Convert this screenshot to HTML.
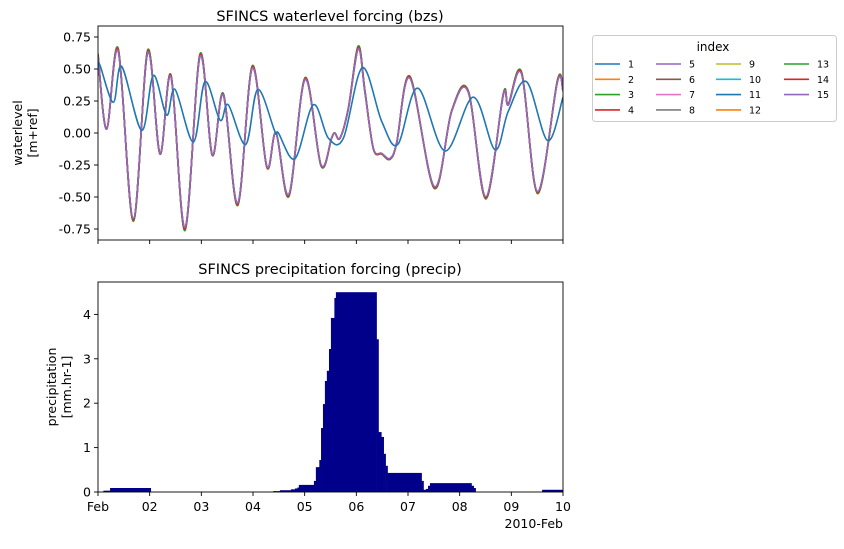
<!DOCTYPE html>
<html><head><meta charset="utf-8"><style>
body{margin:0;background:#fff;font-family:"Liberation Sans","DejaVu Sans",sans-serif;}
svg text{font-family:"DejaVu Sans","Liberation Sans",sans-serif;fill:#000;}
</style></head><body>
<svg id="fig" width="844" height="544" viewBox="0 0 844 544" xmlns="http://www.w3.org/2000/svg">
<rect width="844" height="544" fill="#fff"/>
<g id="topchart"></g>
<g id="botchart"></g>
<g id="legend"></g>
</svg>
<script>
// waterlevel data (hours since Feb 1, value m+ref)
const tideHours = [0,4,9.4,16.4,23.1,28.8,33.9,40.4,47.4,53.1,58.2,64.9,71.7,78.4,82.7,88.7,96.2,103.6,108.5,110,112.4,116.3,120.9,124,127.9,131.8,135.6,138.7,144.9,156.2,164.3,172,180.1,188.3,190.6,196.8,204.2,213.4,216];
const tideLevels = [0.60,0.03,0.64,-0.67,0.63,-0.16,0.44,-0.74,0.60,-0.17,0.30,-0.55,0.51,-0.26,0.0,-0.48,0.42,-0.25,-0.04,0.0,-0.04,0.19,0.66,0.32,-0.12,-0.16,-0.20,-0.08,0.43,-0.42,0.17,0.32,-0.50,0.30,0.22,0.46,-0.46,0.40,0.33];
const offHours = [0,0.9,7.1,11,20.3,25.7,31.9,35.8,44.3,49.7,56.7,60.5,68.6,74.2,82.2,83.8,91.5,100,107,114,122.8,131.8,139.2,148.5,161.2,174.3,184.4,190.6,199.1,208.9,216];
const offLevels = [0.52,0.53,0.24,0.52,0.02,0.45,0.14,0.34,-0.07,0.40,0.10,0.22,-0.09,0.34,0.01,0.0,-0.20,0.22,-0.04,-0.04,0.51,0.09,-0.09,0.35,-0.14,0.28,-0.13,0.17,0.40,-0.06,0.28];
const seriesIndex = [1,2,3,4,5,6,7,8,9,10,11,12,13,14,15];
const seriesAmp = [1,1.005,1.03,1.02,1.0,1.005,1.0,1.0,1.005,1.0,1.005,1.01,1.03,1.015,0.995];
const wlTicks = [-0.75,-0.5,-0.25,0,0.25,0.5,0.75];
// precipitation step data
const precipStart = [0,2.5,5.6,24.5,81.4,84.5,89.6,91.5,92.6,93.3,100.3,101.2,102.8,103.6,104.5,105.4,106.3,107.3,108.2,109.8,110.5,129.4,130.3,131.6,132.7,133.6,134.5,150.3,151.2,152.3,153.3,154.2,173.5,174.5,175.4,206.3];
const precipValue = [0,0.03,0.09,0,0.02,0.04,0.06,0.08,0.1,0.16,0.25,0.56,0.72,1.44,1.98,2.5,2.73,3.22,3.92,4.37,4.5,3.44,1.35,1.24,0.86,0.59,0.43,0.25,0.05,0.07,0.14,0.2,0.14,0.09,0,0.05];
const precipTicks = [0,1,2,3,4];
const dayLabels = ["Feb","02","03","04","05","06","07","08","09","10"];
const colors = ["#1f77b4","#ff7f0e","#2ca02c","#d62728","#9467bd","#8c564b","#e377c2","#7f7f7f","#bcbd22","#17becf","#1f77b4","#ff7f0e","#2ca02c","#d62728","#9467bd"];

const NS="http://www.w3.org/2000/svg";
function mk(tag,attrs,parent){const e=document.createElementNS(NS,tag);for(const k in attrs)e.setAttribute(k,attrs[k]);parent.appendChild(e);return e;}
const L=98,R=563;
const xH=h=>L+(R-L)*h/216;
const yW=v=>133-v*128;
const yP=v=>492-v*44.4;

function smoothPath(xs,ys){
  let d="M"+xs[0].toFixed(2)+","+ys[0].toFixed(2);
  const n=xs.length;
  for(let i=0;i<n-1;i++){
    const x0=xs[Math.max(i-1,0)],y0=ys[Math.max(i-1,0)],x1=xs[i],y1=ys[i],x2=xs[i+1],y2=ys[i+1],x3=xs[Math.min(i+2,n-1)],y3=ys[Math.min(i+2,n-1)];
    const t=1/6;
    const c1x=x1+(x2-x0)*t,c1y=y1+(y2-y0)*t,c2x=x2-(x3-x1)*t,c2y=y2-(y3-y1)*t;
    d+=" C"+c1x.toFixed(2)+","+c1y.toFixed(2)+" "+c2x.toFixed(2)+","+c2y.toFixed(2)+" "+x2.toFixed(2)+","+y2.toFixed(2);
  }
  return d;
}

const topG=document.getElementById('topchart');
const botG=document.getElementById('botchart');
const defs=mk('defs',{},document.getElementById('fig'));
const cp=mk('clipPath',{id:'cpTop'},defs);mk('rect',{x:L,y:26,width:R-L,height:214},cp);

const lines=mk('g',{'clip-path':'url(#cpTop)'},topG);
for(let s=1;s<seriesIndex.length;s++){
  const p=mk('path',{d:smoothPath(tideHours.map(xH),tideLevels.map(v=>yW(v*seriesAmp[s]))),fill:'none',stroke:colors[s],'stroke-width':1.6},lines);
  
  
}
const off=mk('path',{d:smoothPath(offHours.map(xH),offLevels.map(yW)),fill:'none',stroke:colors[0],'stroke-width':1.6},lines);



mk('rect',{x:L,y:26,width:R-L,height:214,fill:'none',stroke:'#000','stroke-width':0.9},topG);
wlTicks.forEach(v=>{
  const y=yW(v);
  mk('line',{x1:L-4,x2:L,y1:y,y2:y,stroke:'#000','stroke-width':0.9},topG);
  const t=mk('text',{x:L-7,y:y+4.5,'text-anchor':'end','font-size':12.5},topG);
  t.textContent=v.toFixed(2);
  
  
});
dayLabels.forEach((d,i)=>{const x=xH(i*24);mk('line',{x1:x,x2:x,y1:240,y2:244,stroke:'#000','stroke-width':0.9},topG);});
let tt=mk('text',{x:330,y:21,'text-anchor':'middle','font-size':14.5},topG);tt.textContent="SFINCS waterlevel forcing (bzs)";


let yl=mk('text',{transform:'translate(22,133) rotate(-90)','text-anchor':'middle','font-size':12.5},topG);
yl.innerHTML='<tspan x="0" dy="0">waterlevel</tspan><tspan x="0" dy="15">[m+ref]</tspan>';



for(let i=0;i<precipStart.length;i++){
  if(precipValue[i]<=0)continue;
  const x0=xH(precipStart[i]),x1=xH(i+1<precipStart.length?precipStart[i+1]:216);
  const r=mk('rect',{x:x0,y:yP(precipValue[i]),width:x1-x0+0.3,height:492-yP(precipValue[i]),fill:'#00008b'},botG);
  
  
}
mk('rect',{x:L,y:282,width:R-L,height:210,fill:'none',stroke:'#000','stroke-width':0.9},botG);
precipTicks.forEach(v=>{
  const y=yP(v);
  mk('line',{x1:L-4,x2:L,y1:y,y2:y,stroke:'#000','stroke-width':0.9},botG);
  const t=mk('text',{x:L-7,y:y+4.5,'text-anchor':'end','font-size':12.5},botG);t.textContent=String(v);
  
  
});
dayLabels.forEach((d,i)=>{
  const x=xH(i*24);
  mk('line',{x1:x,x2:x,y1:492,y2:496,stroke:'#000','stroke-width':0.9},botG);
  const t=mk('text',{x:x,y:511,'text-anchor':'middle','font-size':12.5},botG);t.textContent=d;
  
  
});
let yr=mk('text',{x:R,y:528,'text-anchor':'end','font-size':12.5},botG);yr.textContent="2010-Feb";


let bt=mk('text',{x:330,y:274,'text-anchor':'middle','font-size':14.5},botG);bt.textContent="SFINCS precipitation forcing (precip)";


let pl=mk('text',{transform:'translate(56,387) rotate(-90)','text-anchor':'middle','font-size':12.5},botG);
pl.innerHTML='<tspan x="0" dy="0">precipitation</tspan><tspan x="0" dy="15">[mm.hr-1]</tspan>';



const lg=document.getElementById('legend');
mk('rect',{x:592.5,y:35.5,width:244,height:86,rx:3,fill:'#fff',stroke:'#ccc','stroke-width':1},lg);
let lt=mk('text',{x:713,y:51,'text-anchor':'middle','font-size':12},lg);lt.textContent="index";


const colX=[595,656,716,784];
seriesIndex.forEach((idx,i)=>{
  const c=Math.floor(i/4),r=i%4;
  const x=colX[c],y=64+r*15.3;
  const g=mk('g',{},lg);
  
  
  mk('line',{x1:x,x2:x+25,y1:y,y2:y,stroke:colors[i],'stroke-width':1.6},g);
  const t=mk('text',{x:x+33,y:y+3.5,'font-size':9.5},g);t.textContent=String(idx);
});
</script>
</body></html>
